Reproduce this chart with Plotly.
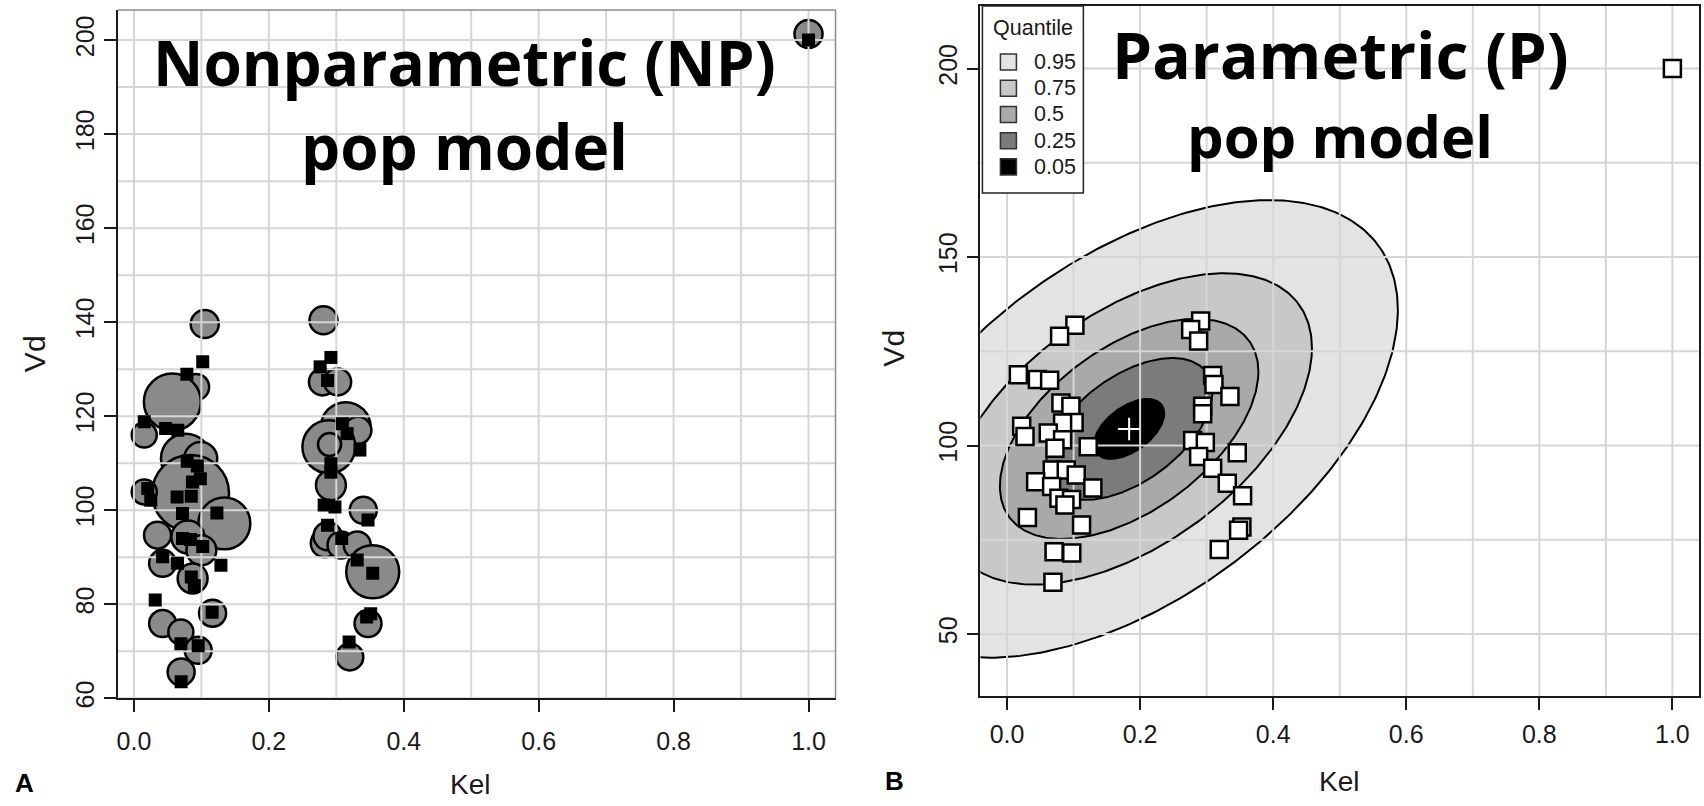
import numpy as np
import plotly.graph_objects as go

W, H = 1704, 806
K = 1.013  # vertical layout stretch

# ---- Nonparametric (NP) population model -------------------------------
# support points: Kel, Vd and relative probability weight
np_support_kel = [0.105, 0.092, 0.057, 0.0153, 0.077, 0.099, 0.084, 0.0153, 0.134,
                  0.035, 0.080, 0.100, 0.0425, 0.087, 0.1166, 0.0425, 0.0696, 0.0953,
                  0.070,
                  0.281, 0.2795, 0.302, 0.314, 0.332, 0.289, 0.290, 0.292, 0.340,
                  0.283, 0.287, 0.307, 0.331, 0.354, 0.347, 0.320,
                  1.0]
np_support_vd = [139.6, 126.2, 123.0, 116.0, 111.0, 111.0, 103.6, 103.9, 97.2,
                 94.7, 94.3, 91.5, 88.7, 85.5, 78.1, 75.9, 74.1, 70.2,
                 65.6,
                 140.4, 127.3, 127.3, 117.7, 117.0, 113.5, 114.0, 105.3, 100.0,
                 93.0, 94.5, 92.6, 92.6, 86.9, 75.9, 68.8,
                 201.3]
np_support_prob = [1.08, 0.95, 4.45, 0.86, 3.4, 1.5, 8.1, 0.86, 3.7,
                   1.0, 1.5, 1.23, 1.0, 1.23, 1.0, 1.0, 0.86, 1.0,
                   1.0,
                   1.08, 1.0, 1.0, 3.4, 1.0, 3.85, 0.73, 1.23, 1.0,
                   1.08, 1.08, 1.0, 1.0, 3.85, 1.0, 1.0,
                   1.08]

# individual Bayesian posterior estimates under the NP model
np_post_kel = [0.102, 0.0785, 0.0153, 0.047, 0.065, 0.079, 0.094, 0.0205, 0.025,
               0.0867, 0.0985, 0.064, 0.085, 0.072, 0.123, 0.072, 0.084, 0.102,
               0.0425, 0.0647, 0.129, 0.085, 0.0895, 0.0316, 0.116, 0.0696, 0.0953,
               0.070,
               0.292, 0.276, 0.287, 0.309, 0.316, 0.335, 0.292, 0.292, 0.282,
               0.298, 0.347, 0.287, 0.308, 0.331, 0.354, 0.351, 0.345, 0.319,
               1.0]
np_post_vd = [131.6, 128.9, 118.8, 117.4, 117.0, 110.4, 109.4, 104.6, 102.1,
              106.0, 106.7, 102.8, 103.0, 99.3, 99.4, 94.0, 93.8, 92.3,
              90.1, 88.7, 88.3, 85.8, 84.0, 80.9, 78.3, 71.6, 71.2,
              63.5,
              132.5, 130.5, 127.6, 118.4, 116.3, 112.8, 109.9, 108.1, 101.1,
              100.7, 97.9, 96.8, 94.0, 89.4, 86.6, 78.0, 77.3, 72.0,
              200.0]

# ---- Parametric (P) population model -----------------------------------
p_post_kel = [0.102, 0.079, 0.017, 0.0456, 0.064, 0.081, 0.096, 0.1008, 0.0835,
              0.022, 0.027, 0.062, 0.0835, 0.072, 0.122, 0.068, 0.089, 0.104,
              0.043, 0.067, 0.129, 0.078, 0.097, 0.087, 0.0306, 0.112, 0.0707,
              0.0973, 0.069,
              0.291, 0.276, 0.288, 0.309, 0.311, 0.335, 0.294, 0.294, 0.279,
              0.298, 0.346, 0.288, 0.309, 0.331, 0.354, 0.353, 0.348, 0.319,
              1.0]
p_post_vd = [131.9, 129.0, 118.8, 117.5, 117.3, 111.3, 110.4, 106.1, 106.0,
             105.1, 102.4, 103.3, 101.5, 99.3, 99.7, 93.5, 93.5, 92.2,
             90.4, 89.1, 88.7, 86.0, 85.7, 84.2, 80.9, 78.9, 71.8,
             71.5, 63.7,
             133.0, 130.8, 127.7, 118.6, 116.2, 113.0, 110.4, 108.4, 101.3,
             100.8, 98.1, 97.1, 94.0, 90.0, 86.7, 78.4, 77.5, 72.4,
             200.0]

# bivariate normal population distribution
p_mean_kel, p_mean_vd = 0.1835, 104.4
p_sd_kel, p_sd_vd = 0.165, 24.8
p_rho = 0.52
quantiles = [0.95, 0.75, 0.5, 0.25, 0.05]
quantile_colors = ["#e3e3e3", "#c8c8c8", "#a9a9a9", "#7b7b7b", "#000000"]

# axes
x_ticks = [0.0, 0.2, 0.4, 0.6, 0.8, 1.0]
np_vd_ticks = [60, 80, 100, 120, 140, 160, 180, 200]
p_vd_ticks = [50, 100, 150, 200]
np_grid_x = [i / 10 for i in range(11)]
np_grid_y = list(range(60, 201, 10))
p_grid_x = [i / 10 for i in range(11)]
p_grid_y = list(range(50, 201, 25))

np_xr, np_yr = [-0.0237, 1.04], [60, 206.4]
p_xr, p_yr = [-0.04, 1.04], [33.6, 216.6]

FONT = "Liberation Sans, Arial, Helvetica, sans-serif"
INK = "#1a1a1a"
GRID = "#d6d6d6"


def py(y):
    return 1 - y * K / H


def px(x):
    return x / W


def grid_trace(xs, ys, xr, yr, xa, ya):
    gx, gy = [], []
    for v in xs:
        gx += [v, v, None]
        gy += [yr[0] - 50, yr[1] + 50, None]
    for v in ys:
        gx += [xr[0] - 1, xr[1] + 1, None]
        gy += [v, v, None]
    return go.Scatter(x=gx, y=gy, mode="lines", line=dict(color=GRID, width=2),
                      xaxis=xa, yaxis=ya, hoverinfo="skip", showlegend=False)


fig = go.Figure()

# ---- panel A ----
np_diam = [27 * np.sqrt(w) for w in np_support_prob]
fig.add_trace(go.Scatter(
    x=np_support_kel, y=np_support_vd, mode="markers",
    marker=dict(size=np_diam, color="#8a8a8a", opacity=1,
                line=dict(color="#000000", width=2.5)),
    xaxis="x", yaxis="y", showlegend=False, cliponaxis=False))
fig.add_trace(grid_trace(np_grid_x, np_grid_y, np_xr, np_yr, "x", "y"))
fig.add_trace(go.Scatter(
    x=np_post_kel, y=np_post_vd, mode="markers",
    marker=dict(symbol="square", size=13, color="#000000", opacity=1, line=dict(width=0)),
    xaxis="x", yaxis="y", showlegend=False))

# ---- panel B ----
t = np.linspace(0, 2 * np.pi, 361)
for q, col in zip(quantiles, quantile_colors):
    c = np.sqrt(-2 * np.log(1 - q))
    ex = p_mean_kel + c * p_sd_kel * np.cos(t)
    ey = p_mean_vd + c * p_sd_vd * (p_rho * np.cos(t) + np.sqrt(1 - p_rho ** 2) * np.sin(t))
    fig.add_trace(go.Scatter(
        x=ex, y=ey, mode="lines", fill="toself", fillcolor=col,
        line=dict(color="#000000", width=2), xaxis="x2", yaxis="y2",
        showlegend=False, hoverinfo="skip"))
fig.add_trace(grid_trace(p_grid_x, p_grid_y, p_xr, p_yr, "x2", "y2"))
fig.add_trace(go.Scatter(
    x=p_post_kel, y=p_post_vd, mode="markers",
    marker=dict(symbol="square", size=17, color="#ffffff", opacity=1,
                line=dict(color="#000000", width=2.5)),
    xaxis="x2", yaxis="y2", showlegend=False, cliponaxis=False))
fig.add_trace(go.Scatter(
    x=[p_mean_kel], y=[p_mean_vd], mode="markers",
    marker=dict(symbol="cross-thin", size=16, line=dict(color="#ffffff", width=2)),
    xaxis="x2", yaxis="y2", showlegend=False))


def x_axis(standoff):
    return dict(tickvals=x_ticks, tickformat=".1f", ticks="outside", ticklen=12,
                tickwidth=1.5, tickcolor=INK, showgrid=False, zeroline=False,
                showline=True, linecolor=INK, linewidth=1.8,
                tickfont=dict(family=FONT, size=25, color=INK),
                ticklabelstandoff=standoff)


common_y = dict(ticks="outside", ticklen=12, tickwidth=1.5, tickcolor=INK,
                showgrid=False, zeroline=False, showline=True, linecolor=INK,
                linewidth=1.8, tickangle=-90,
                tickfont=dict(family=FONT, size=25, color=INK), ticklabelstandoff=0)

fig.update_layout(
    width=W, height=H, margin=dict(l=0, r=0, t=0, b=0),
    paper_bgcolor="#ffffff", plot_bgcolor="#ffffff", showlegend=False,
    xaxis=dict(domain=[px(117), px(835)], range=np_xr, anchor="y", **x_axis(8)),
    yaxis=dict(domain=[py(698), py(10)], range=np_yr, anchor="x",
               tickvals=np_vd_ticks, **common_y),
    xaxis2=dict(domain=[px(980), px(1699)], range=p_xr, anchor="y2", mirror=True, **x_axis(3)),
    yaxis2=dict(domain=[py(695.5), py(6)], range=p_yr, anchor="x2", mirror=True,
                tickvals=p_vd_ticks, **common_y),
)

# grey top/right frame of panel A
fig.add_shape(type="line", xref="x domain", yref="y domain", x0=0, x1=1, y0=1, y1=1,
              line=dict(color="#8c8c8c", width=1.5))
fig.add_shape(type="line", xref="x domain", yref="y domain", x0=1, x1=1, y0=0, y1=1,
              line=dict(color="#8c8c8c", width=1.5))


def label(text, x, y, size, angle=0, bold=False, family=FONT, yanchor="middle",
          xanchor="center"):
    fig.add_annotation(text=text, x=px(x), y=py(y), xref="paper", yref="paper",
                       xanchor=xanchor, yanchor=yanchor, showarrow=False,
                       textangle=angle,
                       font=dict(family=family, size=size, color="#000000" if bold else INK,
                                 weight=700 if bold else 400))


# quantile key in the top-left corner of panel B
fig.add_shape(type="rect", xref="paper", yref="paper",
              x0=px(982), x1=px(1083), y0=py(193), y1=py(6),
              fillcolor="#ffffff", line=dict(color="#222222", width=1.5), layer="above")
label("Quantile", 1033, 28, 21.5)
for i, (q, col) in enumerate(zip(quantiles, quantile_colors)):
    yc = 62 + 26.2 * i
    fig.add_shape(type="rect", xref="paper", yref="paper",
                  x0=px(1000), x1=px(1016), y0=py(yc + 8), y1=py(yc - 8),
                  fillcolor=col, line=dict(color="#333333", width=1.5), layer="above")
    label(f"{q:g}", 1032, yc, 21.5, xanchor="left")

label("Vd", 33, 353, 30, angle=-90)
label("Vd", 893, 348, 30, angle=-90)
label("Kel", 469, 802, 28, yanchor="bottom")
label("Kel", 1339, 799, 28, yanchor="bottom")
label("A", 24, 800, 26, bold=True, yanchor="bottom")
label("B", 894, 798, 26, bold=True, yanchor="bottom")

TITLE_FONT = "Open Sans, Lato, sans-serif"
label("Nonparametric (NP)", 464, 62, 62, bold=True, family=TITLE_FONT)
label("pop model", 464, 146, 62, bold=True, family=TITLE_FONT)
label("Parametric (P)", 1340, 54, 64, bold=True, family=TITLE_FONT)
label("pop model", 1340, 135, 58, bold=True, family=TITLE_FONT)

fig.write_html("out.html")
